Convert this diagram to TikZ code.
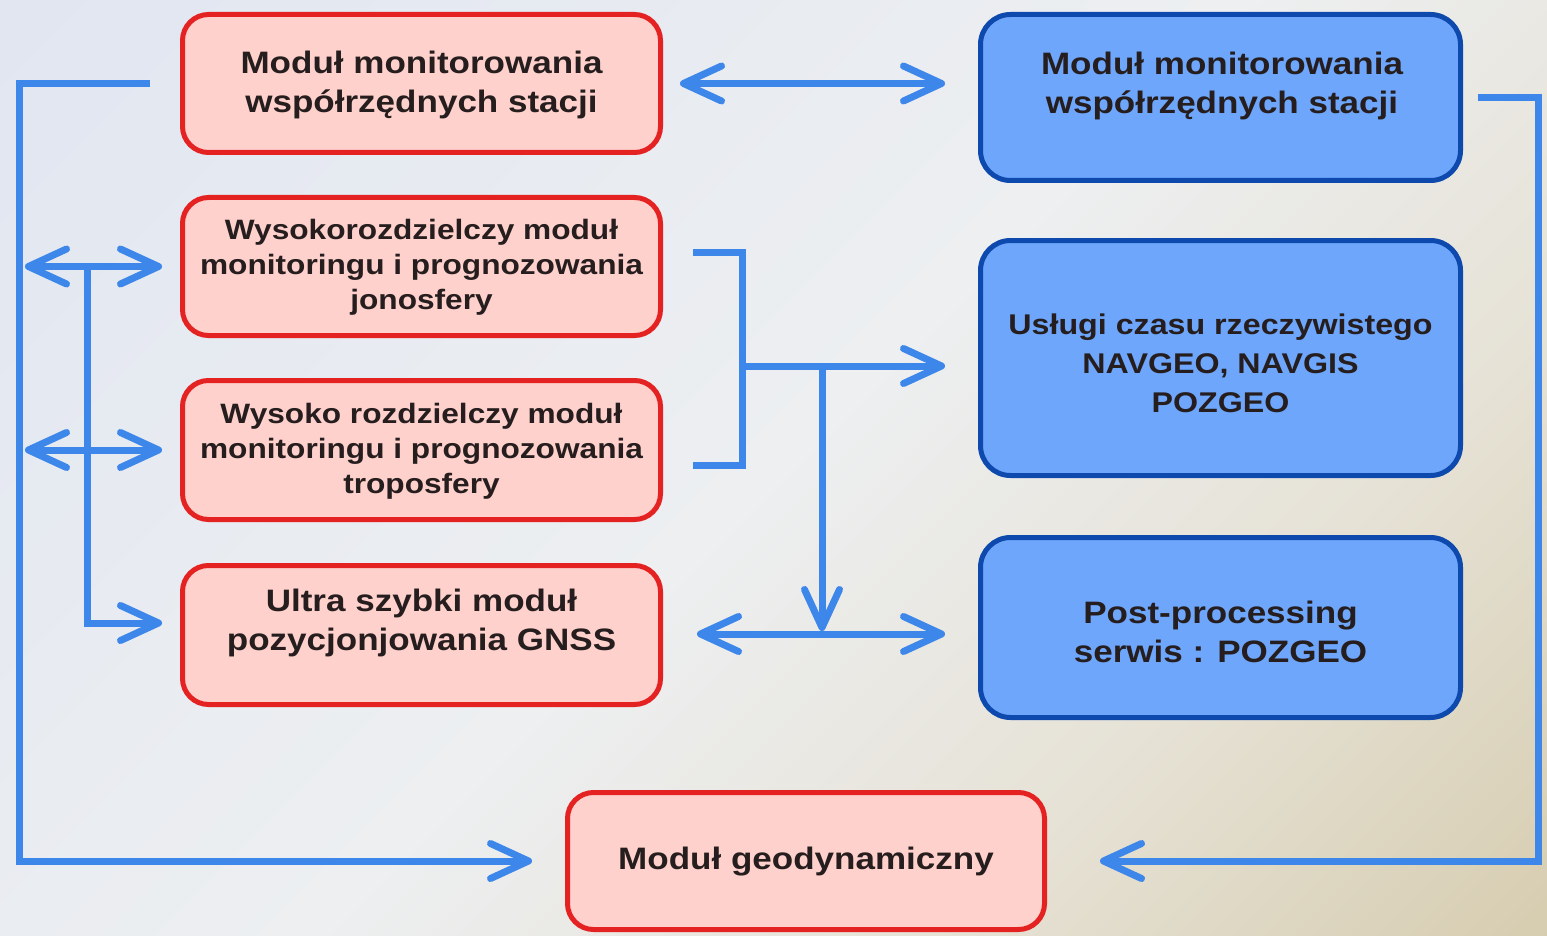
\documentclass[tikz,border=0pt]{standalone}
\usepackage{fontspec}
\setmainfont{Liberation Sans}[FakeStretch=1.13]
\usetikzlibrary{arrows.meta,calc}
\definecolor{bgA}{HTML}{E1E6F1}
\definecolor{bgB}{HTML}{EDEFF1}
\definecolor{bgC}{HTML}{E6E2D6}
\definecolor{bgD}{HTML}{D6CCAF}
\definecolor{redfill}{HTML}{FFD1CC}
\definecolor{redline}{HTML}{E52222}
\definecolor{bluefill}{HTML}{6DA6FB}
\definecolor{blueline}{HTML}{0E4AAE}
\definecolor{conblue}{HTML}{3D86EA}
\definecolor{txtc}{HTML}{261E1E}
\pgfdeclarehorizontalshading{bgshade}{100bp}{color(0bp)=(bgA); color(15bp)=(bgA); color(50bp)=(bgB); color(68bp)=(bgC); color(86bp)=(bgD); color(100bp)=(bgD)}
\begin{document}
\begin{tikzpicture}[x=1pt,y=-1pt,
  redbox/.style={draw=redline, fill=redfill, line width=5pt, rounded corners=26pt, minimum width=478pt, inner sep=0pt},
  bluebox/.style={draw=blueline, fill=bluefill, line width=5pt, rounded corners=30pt, minimum width=480pt, inner sep=0pt},
  txt/.style={text=txtc, font=\bfseries\fontsize{31}{39.5}\selectfont, align=center, inner sep=0pt},
  stxt/.style={text=txtc, font=\bfseries\fontsize{28}{35}\selectfont, align=center, inner sep=0pt},
  conn/.style={draw=conblue, line width=7pt},
  >={Straight Barb[round,length=38pt,width=35pt]},
]
\shade[shading=bgshade, shading angle=-45] (0,0) rectangle (1547,936);
\useasboundingbox (0,0) rectangle (1547,936);

% red boxes
\node[redbox, minimum height=138pt] (m1) at (421.5,83.5) {};
\node[txt] (m1t) at (421.5,85) {Moduł monitorowania\\współrzędnych stacji};
\node[redbox, minimum height=138pt] (m2) at (421.5,266.5) {};
\node[stxt] (m2t) at (421.5,267) {Wysokorozdzielczy moduł\\monitoringu i prognozowania\\jonosfery};
\node[redbox, minimum height=139pt] (m3) at (421.5,450) {};
\node[stxt] (m3t) at (421.5,451.5) {Wysoko rozdzielczy moduł\\monitoringu i prognozowania\\troposfery};
\node[redbox, minimum height=139pt] (m4) at (421.5,635) {};
\node[txt] (m4t) at (421.5,623) {Ultra szybki moduł\\pozycjonjowania GNSS};
\node[redbox, minimum width=477pt, minimum height=137pt] (geo) at (806,861) {};
\node[txt] (geot) at (806,862) {Moduł geodynamiczny};

% blue boxes
\node[bluebox, minimum height=166pt] (b1) at (1220.5,97.5) {};
\node[txt] (b1t) at (1222,86) {Moduł monitorowania\\współrzędnych stacji};
\node[bluebox, minimum height=235pt] (b2) at (1220.5,358) {};
\node[stxt, font=\bfseries\fontsize{28.5}{39}\selectfont] (b2t) at (1220.5,363) {Usługi czasu rzeczywistego\\NAVGEO, NAVGIS\\POZGEO};
\node[bluebox, minimum height=180pt] (b3) at (1220.5,627.5) {};
\node[txt] (b3t) at (1220.5,632) {Post-processing\\serwis : POZGEO};

% connectors
\draw[conn,<->] ($(m1.east)+(17,0)$) -- ($(b1.west |- m1.east)+(-33,0)$);

\coordinate (LX) at (19,0);
\draw[conn,->] ($(m1.west)+(-30,0)$) -- (LX |- m1.west) -- (LX |- geo.west) -- ($(geo.west)+(-33,0)$);

\coordinate (LA) at (25,0);
\coordinate (LB) at (87,0);
\draw[conn,<->] (LA |- m2.west) -- ($(m2.west)+(-18,0)$);
\draw[conn,<->] (LA |- m3.west) -- ($(m3.west)+(-18,0)$);
\draw[conn,->] (LB |- m2.west) -- (LB |- m4t) -- ($(m4.west |- m4t)+(-18,0)$);

\coordinate (BX) at (742,0);
\draw[conn] ($(m2.east)+(30,-14)$) -- ($(BX |- m2.east)+(0,-14)$) -- ($(BX |- m3.east)+(0,15)$) -- ($(m3.east)+(30,15)$);
\coordinate (J) at (742,366);
\coordinate (D) at (822,366);
\coordinate (H) at (822,634);
\draw[conn,->] (J) -- ($(b2.west |- J)+(-33,0)$);
\draw[conn,->] (D) -- ($(H)+(0,-3)$);
\draw[conn,<->] ($(m4.east |- H)+(34,0)$) -- ($(b3.west |- H)+(-33,0)$);

\coordinate (RX) at (1538,0);
\draw[conn,->] ($(b1.east)+(15,0)$) -- (RX |- b1.east) -- (RX |- geo.east) -- ($(geo.east)+(53,0)$);
\end{tikzpicture}
\end{document}
